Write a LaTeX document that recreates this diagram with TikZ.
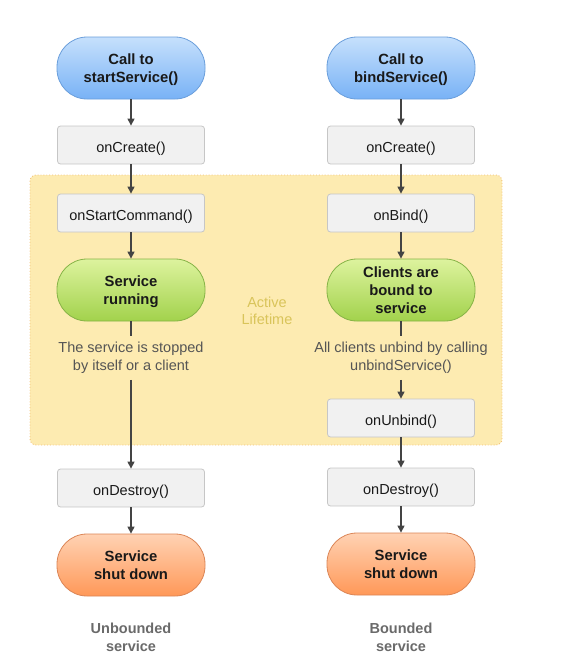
\documentclass[tikz,border=0pt]{standalone}
\usepackage{fontspec}
\setmainfont{Liberation Sans}
\usetikzlibrary{arrows.meta}
\definecolor{arr}{HTML}{444444}
\definecolor{boxfill}{HTML}{F1F1F1}
\definecolor{boxline}{HTML}{C6C6C6}
\definecolor{yfill}{HTML}{FDEBB1}
\definecolor{yline}{HTML}{F2C27A}
\definecolor{ytext}{HTML}{D9C45A}
\definecolor{bluetop}{HTML}{C6E0FC}
\definecolor{bluebot}{HTML}{78B2F6}
\definecolor{blueline}{HTML}{6A9EDB}
\definecolor{greentop}{HTML}{DDF39E}
\definecolor{greenbot}{HTML}{A2D24C}
\definecolor{greenline}{HTML}{86B346}
\definecolor{orgtop}{HTML}{FFD2B3}
\definecolor{orgbot}{HTML}{FF9858}
\definecolor{orgline}{HTML}{DB8556}
\definecolor{note}{HTML}{555555}
\definecolor{caption}{HTML}{6A6A6A}
\newcommand{\lowertext}{\rule{0pt}{15pt}}
\begin{document}
\begin{tikzpicture}[x=1pt,y=-1pt,
  method/.style={draw=boxline, fill=boxfill, line width=0.8pt, rounded corners=3pt,
    minimum width=147pt, minimum height=38pt, inner sep=0pt, text height=14pt, text depth=0pt,
    font=\fontsize{14.5}{16}\selectfont, text=black!90},
  pill/.style={line width=0.8pt, rounded corners=30pt, minimum width=148pt, minimum height=62pt,
    inner sep=0pt, align=center, font=\bfseries\fontsize{14.8}{18}\selectfont, text=black!90},
  bluepill/.style={pill, draw=blueline, top color=bluetop, bottom color=bluebot},
  greenpill/.style={pill, draw=greenline, top color=greentop, bottom color=greenbot},
  orgpill/.style={pill, draw=orgline, top color=orgtop, bottom color=orgbot},
  notetext/.style={align=center, text=note, font=\fontsize{14.5}{18}\selectfont, inner xsep=0pt, inner ysep=6pt},
  capt/.style={align=center, text=caption, font=\bfseries\fontsize{14.5}{18}\selectfont},
  flow/.style={draw=arr, line width=1.1pt, -{Triangle[length=7pt,width=7pt]}},
  plain/.style={draw=arr, line width=1.1pt}
]
\useasboundingbox (0,0) rectangle (581,662);
% active lifetime area
\draw[yline, fill=yfill, line width=0.9pt, dotted, rounded corners=6pt] (30,175) rectangle (502,445);
\node[text=ytext, align=center, font=\fontsize{14.5}{17}\selectfont] (active) at (267,311) {Active\\Lifetime};

% left column
\node[bluepill] (callL) at (131,68) {\lowertext Call to\\startService()};
\node[method] (createL) at (131,145) {onCreate()};
\node[method] (startL) at (131,213) {onStartCommand()};
\node[greenpill] (run) at (131,290) {\lowertext Service\\running};
\node[notetext] (noteL) at (131,358) {The service is stopped\\by itself or a client};
\node[method] (destroyL) at (131,488) {onDestroy()};
\node[orgpill] (downL) at (131,565) {Service\\shut down};
\node[capt] (capL) at (131,637) {Unbounded\\service};

% right column
\node[bluepill] (callR) at (401,68) {\lowertext Call to\\bindService()};
\node[method] (createR) at (401,145) {onCreate()};
\node[method] (bind) at (401,213) {onBind()};
\node[greenpill] (bound) at (401,290) {Clients are\\bound to\\service};
\node[notetext] (noteR) at (401,358) {All clients unbind by calling\\unbindService()};
\node[method] (unbind) at (401,418) {onUnbind()};
\node[method] (destroyR) at (401,487) {onDestroy()};
\node[orgpill] (downR) at (401,564) {Service\\shut down};
\node[capt] (capR) at (401,637) {Bounded\\service};

% connectors left
\draw[flow] (callL) -- (createL);
\draw[flow] (createL) -- (startL);
\draw[flow] (startL) -- (run);
\draw[plain] (run) -- (noteL);
\draw[flow] (noteL) -- (destroyL);
\draw[flow] (destroyL) -- (downL);

% connectors right
\draw[flow] (callR) -- (createR);
\draw[flow] (createR) -- (bind);
\draw[flow] (bind) -- (bound);
\draw[plain] (bound) -- (noteR);
\draw[flow] (noteR) -- (unbind);
\draw[flow] (unbind) -- (destroyR);
\draw[flow] (destroyR) -- (downR);
\end{tikzpicture}
\end{document}
